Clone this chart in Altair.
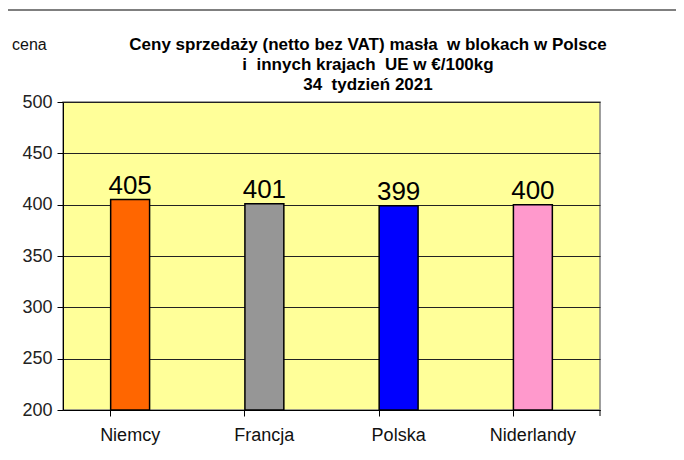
import altair as alt
import pandas as pd

countries = ["Niemcy", "Francja", "Polska", "Niderlandy"]
prices = [405, 401, 399, 400]
colors = ["#FF6600", "#969696", "#0000FF", "#FF99CC"]
title_lines = [
    "Ceny sprzedaży (netto bez VAT) masła\u00a0 w blokach w Polsce",
    "i \u00a0innych krajach\u00a0 UE w €/100kg",
    "34 \u00a0tydzień 2021",
]
y_ticks = [200, 250, 300, 350, 400, 450, 500]

df = pd.DataFrame({"kraj": countries, "cena": prices, "kolor": colors})

W, H = 537, 308
FONT = "Liberation Sans"

x_enc = alt.X(
    "kraj:N",
    sort=countries,
    scale=alt.Scale(paddingInner=0.71, paddingOuter=0.355),
    axis=alt.Axis(
        title=None, labelAngle=0, labelFontSize=18, labelFont=FONT,
        labelColor="#111111", labelPadding=10, tickSize=6, tickColor="#000000",
        domainColor="#000000", bandPosition=0, grid=False,
    ),
)
y_scale = alt.Scale(domain=[200, 500], nice=False, zero=False)

bars = alt.Chart(df).mark_bar(stroke="#000000", strokeWidth=1.5).encode(
    x=x_enc,
    y=alt.Y(
        "cena:Q",
        scale=y_scale,
        axis=alt.Axis(
            values=y_ticks, title=None,
            labelFontSize=18, labelFont=FONT, labelColor="#222222",
            labelPadding=5, tickSize=6, tickColor="#000000",
            domainColor="#000000", gridColor="#222222", gridWidth=1,
        ),
    ),
    y2=alt.datum(200),
    color=alt.Color("kolor:N", scale=None, legend=None),
)

labels = alt.Chart(df).mark_text(
    fontSize=26, font=FONT, color="#000000", baseline="alphabetic", dy=-6
).encode(
    x=alt.X("kraj:N", sort=countries),
    y=alt.Y("cena:Q", scale=y_scale),
    text="cena:Q",
)

one = pd.DataFrame({"a": [0]})

title = alt.Chart(one).mark_text(
    text=title_lines, fontSize=17, fontWeight="bold", font=FONT,
    color="#000000", align="center", baseline="middle", lineHeight=20,
).encode(x=alt.value(305), y=alt.value(-57))

cena = alt.Chart(one).mark_text(
    text="cena", fontSize=16, font=FONT, color="#111111",
    align="left", baseline="middle",
).encode(x=alt.value(-51), y=alt.value(-57))

top_line = alt.Chart(one).mark_rule(
    color="#000000", strokeWidth=1.2
).encode(x=alt.value(-55), x2=alt.value(613), y=alt.value(-92))

last_tick = alt.Chart(one).mark_rule(
    color="#000000", strokeWidth=1
).encode(x=alt.value(W), y=alt.value(H), y2=alt.value(H + 6))

chart = alt.layer(bars, labels, title, cena, top_line, last_tick).properties(
    width=W,
    height=H,
    autosize=alt.AutoSizeParams(type="none"),
    padding={"left": 55, "top": 94, "right": 76, "bottom": 40},
    background="#FFFFFF",
).configure_view(
    fill="#FFFF99", stroke="#808080", strokeWidth=1.5
)

chart.save("out.html", embed_options={"renderer": "svg", "actions": False})
